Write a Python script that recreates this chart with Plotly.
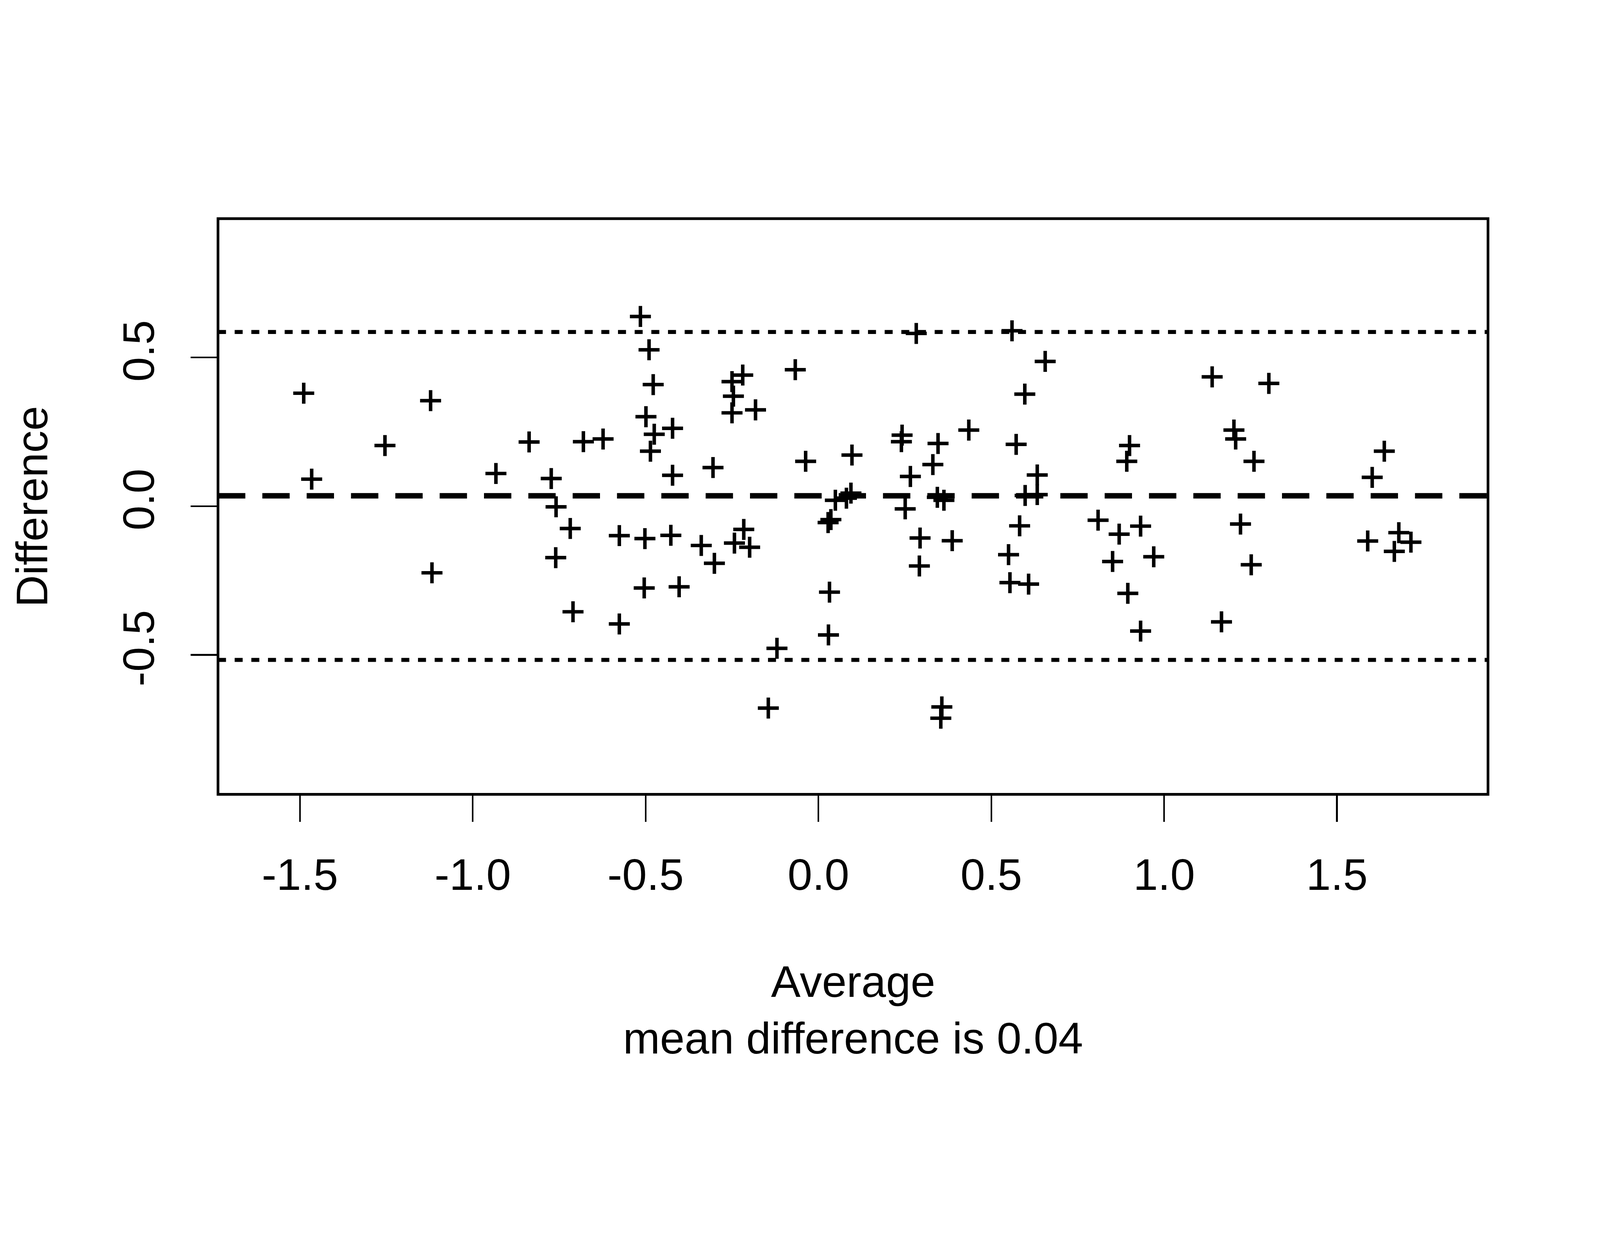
import plotly.graph_objects as go

# Bland-Altman style data
average = [
    -1.489, -1.466, -1.254, -1.122, -1.118, -0.837, -0.933,
    -0.515, -0.490, -0.478, -0.499, -0.475, -0.486, -0.422, -0.422, -0.680, -0.623,
    -0.773, -0.759, -0.718, -0.760, -0.710, -0.576, -0.576, -0.502, -0.504, -0.427,
    -0.403, -0.339, -0.301, -0.305, -0.219, -0.250, -0.246, -0.250, -0.182, -0.216,
    -0.243, -0.199, -0.067, -0.037, -0.120, -0.145, 0.032, 0.029, 0.028, 0.036,
    0.049, 0.081, 0.094, 0.097,
    0.242, 0.240, 0.266, 0.251, 0.283, 0.294, 0.292, 0.346, 0.331, 0.344, 0.363,
    0.387, 0.357, 0.354, 0.435, 0.560, 0.656, 0.597, 0.572, 0.633, 0.598, 0.633,
    0.582, 0.550, 0.554, 0.608, 0.809, 0.870, 0.851, 0.895, 0.932, 0.970, 0.932,
    0.900, 0.892,
    1.139, 1.303, 1.202, 1.207, 1.260, 1.221, 1.252, 1.166, 1.637, 1.602, 1.589,
    1.679, 1.714, 1.666,
]
difference = [
    0.380, 0.091, 0.204, 0.355, -0.224, 0.216, 0.110,
    0.638, 0.526, 0.409, 0.301, 0.242, 0.185, 0.262, 0.104, 0.217, 0.226,
    0.093, -0.002, -0.075, -0.173, -0.355, -0.099, -0.396, -0.109, -0.275, -0.098,
    -0.271, -0.132, -0.192, 0.130, 0.441, 0.419, 0.370, 0.314, 0.324, -0.078,
    -0.124, -0.138, 0.459, 0.151, -0.478, -0.679, -0.289, -0.433, -0.055, -0.045,
    0.020, 0.027, 0.044, 0.172,
    0.239, 0.217, 0.100, -0.009, 0.581, -0.107, -0.201, 0.211, 0.140, 0.030, 0.020,
    -0.116, -0.675, -0.713, 0.256, 0.590, 0.487, 0.377, 0.208, 0.105, 0.036, 0.039,
    -0.066, -0.163, -0.257, -0.262, -0.047, -0.094, -0.186, -0.293, -0.067, -0.170, -0.420,
    0.204, 0.151,
    0.435, 0.413, 0.256, 0.226, 0.151, -0.060, -0.197, -0.389, 0.185, 0.097, -0.117,
    -0.089, -0.121, -0.152,
]

mean_diff = 0.035
upper_limit = 0.586
lower_limit = -0.517

x_ticks = [-1.5, -1.0, -0.5, 0.0, 0.5, 1.0, 1.5]
x_tick_labels = ["-1.5", "-1.0", "-0.5", "0.0", "0.5", "1.0", "1.5"]
y_ticks = [-0.5, 0.0, 0.5]
y_tick_labels = ["-0.5", "0.0", "0.5"]

x_range = [-1.737, 1.937]
y_range = [-0.969, 0.967]

W, H = 4800, 3200
FONT = "Liberation Sans, Arial, Helvetica, sans-serif"
FS = 133

fig = go.Figure()
fig.add_trace(go.Scatter(
    x=average, y=difference, mode="markers",
    marker=dict(symbol="cross-thin", size=45, color="black",
                line=dict(color="black", width=10.5)),
    showlegend=False, hoverinfo="skip",
))

# mean and limits of agreement lines
fig.add_shape(type="line", xref="paper", x0=0, x1=1, yref="y", y0=mean_diff, y1=mean_diff,
              line=dict(color="black", width=16.5, dash="82px,51px"))
for lim in (upper_limit, lower_limit):
    fig.add_shape(type="line", xref="paper", x0=0, x1=1, yref="y", y0=lim, y1=lim,
                  line=dict(color="black", width=12, dash="24px,26px"))

# frame
fig.add_shape(type="rect", xref="paper", yref="paper", x0=0, x1=1, y0=0, y1=1,
              line=dict(color="black", width=8), fillcolor="rgba(0,0,0,0)")

fig.update_layout(
    width=W, height=H, autosize=False,
    margin=dict(l=654, r=336, t=656, b=817),
    paper_bgcolor="white", plot_bgcolor="white",
    font=dict(family=FONT, size=FS, color="black"),
    xaxis=dict(range=x_range, tickmode="array", tickvals=x_ticks, ticktext=x_tick_labels,
               ticks="outside", ticklen=82, tickwidth=4.5, tickcolor="black",
               showgrid=False, zeroline=False, showline=False,
               tickfont=dict(family=FONT, size=FS, color="black"),
               ticklabelstandoff=44),
    yaxis=dict(range=y_range, tickmode="array", tickvals=y_ticks, ticktext=y_tick_labels,
               ticks="outside", ticklen=81, tickwidth=4.5, tickcolor="black",
               showgrid=False, zeroline=False, showline=False, tickangle=-90,
               tickfont=dict(family=FONT, size=FS, color="black"),
               ticklabelstandoff=57),
    annotations=[
        dict(text="Average", xref="paper", yref="paper", x=0.5, y=-0.3254,
             xanchor="center", yanchor="middle", showarrow=False,
             font=dict(family=FONT, size=FS, color="black")),
        dict(text="mean difference is 0.04", xref="paper", yref="paper", x=0.5, y=-0.4233,
             xanchor="center", yanchor="middle", showarrow=False,
             font=dict(family=FONT, size=FS, color="black")),
        dict(text="Difference", xref="paper", yref="paper", x=-0.1465, y=0.5,
             xanchor="center", yanchor="middle", showarrow=False, textangle=-90,
             font=dict(family=FONT, size=FS, color="black")),
    ],
)

# fit the fixed-size figure into the browser viewport (and keep the page that size)
post = """
var W=%d, H=%d;
var gd=document.getElementById('{plot_id}');
var s=Math.min(window.innerWidth/W, window.innerHeight/H);
var root=document.documentElement, body=document.body;
[root, body].forEach(function(el){
  el.style.margin='0'; el.style.padding='0'; el.style.overflow='hidden';
  el.style.width=(W*s)+'px'; el.style.height=(H*s)+'px';
});
var c=gd.parentElement;
c.style.width=(W*s)+'px'; c.style.height=(H*s)+'px';
c.style.overflow='hidden'; c.style.position='relative';
gd.style.position='absolute'; gd.style.left='0'; gd.style.top='0';
gd.style.transformOrigin='0 0';
gd.style.transform='scale('+s+')';
""" % (W, H)

fig.write_html("out.html", post_script=post,
               config={"responsive": False, "displayModeBar": False})
